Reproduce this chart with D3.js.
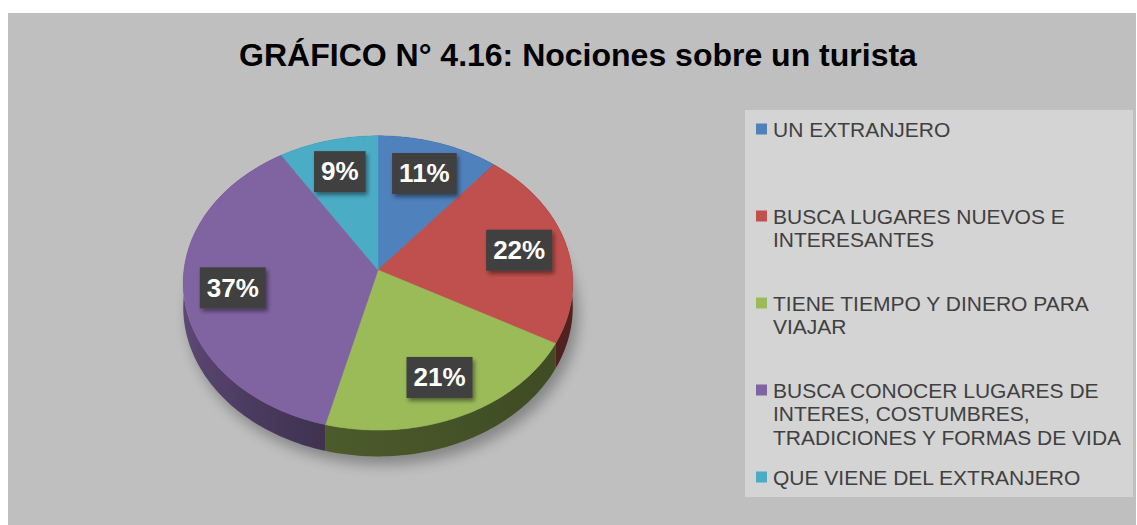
<!DOCTYPE html>
<html>
<head>
<meta charset="utf-8">
<script src="https://cdn.jsdelivr.net/npm/d3@7"></script>
<style>
  html, body { margin: 0; padding: 0; background: #fff; }
  svg { display: block; font-family: "Liberation Sans", Arial, sans-serif; }
</style>
</head>
<body>
<svg id="chart" width="1137" height="525"></svg>
<script>
// data
const categories = [
  "UN EXTRANJERO",
  "BUSCA LUGARES NUEVOS E INTERESANTES",
  "TIENE TIEMPO Y DINERO PARA VIAJAR",
  "BUSCA CONOCER LUGARES DE INTERES, COSTUMBRES, TRADICIONES Y FORMAS DE VIDA",
  "QUE VIENE DEL EXTRANJERO"
];
const values = [11, 22, 21, 37, 9];
const colors = ["#4f81bd", "#c0504d", "#9bbb59", "#8064a2", "#4bacc6"];
const title = "GRÁFICO N° 4.16: Nociones sobre un turista";

const W = 1137, H = 525;
const svg = d3.select("#chart");

// filters
const defs = svg.append("defs");
const blur = defs.append("filter").attr("id", "pieShadow")
    .attr("x", "-20%").attr("y", "-20%").attr("width", "140%").attr("height", "140%");
blur.append("feGaussianBlur").attr("stdDeviation", 7);
const drop = defs.append("filter").attr("id", "boxShadow")
    .attr("x", "-30%").attr("y", "-30%").attr("width", "160%").attr("height", "160%");
drop.append("feDropShadow").attr("dx", 2).attr("dy", 3).attr("stdDeviation", 2)
    .attr("flood-color", "#000").attr("flood-opacity", 0.45);

// chart area
svg.append("rect").attr("x", 8).attr("y", 13).attr("width", W - 9).attr("height", H - 13)
    .attr("fill", "#bfbfbf");

svg.append("text")
    .attr("x", 578).attr("y", 66)
    .attr("text-anchor", "middle")
    .attr("font-size", 32).attr("font-weight", "bold").attr("fill", "#000")
    .text(title);

// 3D pie projection (tilted disc with a bit of perspective)
const cx = 378, cy = 270, rx = 194, ry = 146, persp = 0.088, depth = 24;
function proj(a, f, down) {
  const x = f * Math.sin(a), z = -f * Math.cos(a);
  const p = 1 / (1 - persp * z);
  return [cx + rx * x * p, cy + ry * z * p + (down ? depth * p : 0)];
}

const pie = d3.pie().sort(null).value(d => d)(values);
const line = d3.line();

function arcPts(a0, a1, down) {
  const n = Math.max(2, Math.ceil((a1 - a0) / 0.02));
  return d3.range(n + 1).map(i => proj(a0 + (a1 - a0) * i / n, 1, down));
}

// soft shadow under the pie
const shadowPts = arcPts(0, 2 * Math.PI, true).map(([x, y]) => [x + 5, y + 8]);
svg.append("path").attr("d", line(shadowPts) + "Z")
    .attr("fill", "#000").attr("opacity", 0.3).attr("filter", "url(#pieShadow)");

// wall shading: darker as the wall turns from the left towards the right
function shade(a) {
  const nx = Math.sin(a);
  return 0.9 + 1.1 * Math.min(1, Math.max(0, (nx + 1) / 0.75)) + 0.5 * Math.min(1, Math.max(0, nx + 0.25));
}
const xLeft = cx - rx - 4, xRight = cx + rx + 4;
colors.forEach((c, i) => {
  const g = defs.append("linearGradient").attr("id", "wall" + i)
      .attr("gradientUnits", "userSpaceOnUse")
      .attr("x1", xLeft).attr("x2", xRight).attr("y1", 0).attr("y2", 0);
  d3.range(0, 41).forEach(j => {
    const a = 1.5 * Math.PI - Math.PI * j / 40;   // left edge -> right edge along front
    const x = proj(a, 1, false)[0];
    g.append("stop")
        .attr("offset", Math.min(1, Math.max(0, (x - xLeft) / (xRight - xLeft))))
        .attr("stop-color", d3.color(c).darker(shade(a)));
  });
});

// side walls
svg.append("g").selectAll("path")
  .data(pie)
  .join("path")
    .attr("d", s => {
      const top = arcPts(s.startAngle, s.endAngle, false);
      const bot = arcPts(s.startAngle, s.endAngle, true).reverse();
      return line([...top, ...bot]) + "Z";
    })
    .attr("fill", (s, i) => `url(#wall${i})`);

// top faces
svg.append("g").selectAll("path")
  .data(pie)
  .join("path")
    .attr("d", s => line([[cx, cy], ...arcPts(s.startAngle, s.endAngle, false)]) + "Z")
    .attr("fill", (s, i) => colors[i])
    .attr("stroke", (s, i) => colors[i]).attr("stroke-width", 0.5);

// data labels
const labels = svg.append("g").selectAll("g")
  .data(pie)
  .join("g")
    .attr("transform", s => {
      const [x, y] = proj((s.startAngle + s.endAngle) / 2, 0.75, false);
      return `translate(${x},${y})`;
    });
labels.append("rect").attr("fill", "#404040").attr("filter", "url(#boxShadow)");
labels.append("text")
    .attr("text-anchor", "middle").attr("dy", "0.36em")
    .attr("font-size", 26).attr("font-weight", "bold").attr("fill", "#fff")
    .text(s => s.value + "%");
labels.each(function () {
  const g = d3.select(this);
  const w = g.select("text").node().getComputedTextLength() + 14;
  g.select("rect").attr("x", -w / 2).attr("y", -20).attr("width", w).attr("height", 41);
});

// legend
const legX = 745, legY = 110, legW = 388, legH = 387;
svg.append("rect").attr("x", legX).attr("y", legY).attr("width", legW).attr("height", legH)
    .attr("fill", "#d4d4d4");

const legend = svg.append("g").selectAll("g")
  .data(categories)
  .join("g")
    .attr("transform", (d, i) => `translate(${legX + 11},${legY + 19 + i * 87})`);
legend.append("rect").attr("x", 0).attr("y", -5.5).attr("width", 11).attr("height", 11)
    .attr("fill", (d, i) => colors[i]);
legend.append("text")
    .attr("x", 17).attr("font-size", 21).attr("fill", "#404040")
    .each(function (d) {
      const t = d3.select(this);
      const words = d.split(" ");
      let ln = [], lines = [];
      const probe = t.append("tspan");
      words.forEach(w => {
        probe.text([...ln, w].join(" "));
        if (ln.length && probe.node().getComputedTextLength() > 358) {
          lines.push(ln.join(" "));
          ln = [w];
        } else ln.push(w);
      });
      lines.push(ln.join(" "));
      probe.remove();
      lines.forEach((l, k) => {
        t.append("tspan").attr("x", 17).attr("y", k * 23.5).attr("dy", "0.36em").text(l);
      });
    });
</script>
</body>
</html>
